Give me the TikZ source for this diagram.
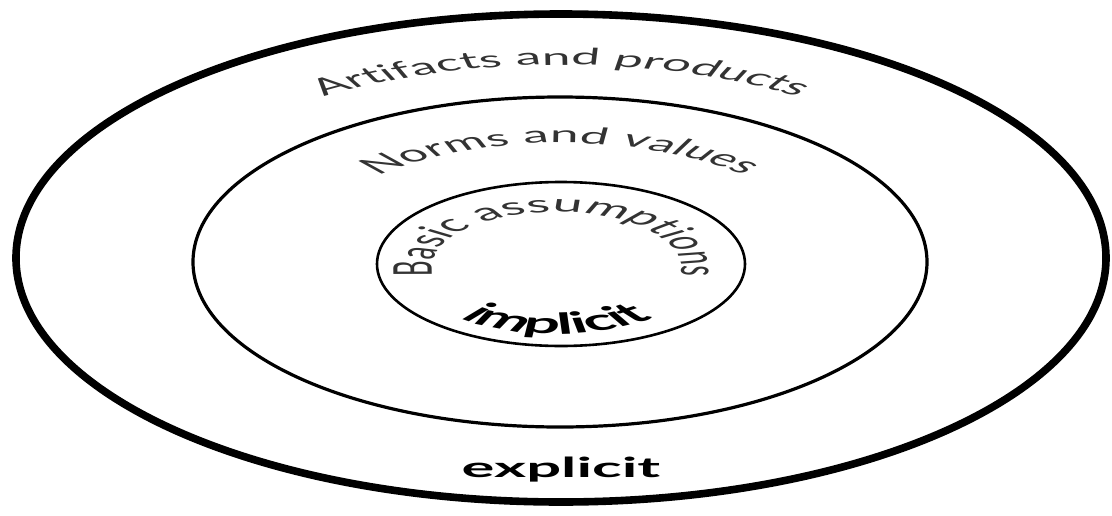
\documentclass[tikz,border=0pt]{standalone}
\usepackage{fontspec}
\setmainfont{Lato}
\usetikzlibrary{decorations.text}

\begin{document}
\begin{tikzpicture}[
    x=0.5pt, y=0.5pt,
    ring/.style={draw=black},
    arctext/.style={decorate, decoration={text along path, text align=center,
        text color=black!80, text={|\fontsize{11.5}{14}\selectfont|#1}}},
    boldarc/.style={decorate, decoration={text along path, text align=center,
        text={|\fontsize{14.5}{17}\selectfont\bfseries|#1}}}
  ]
  \useasboundingbox (-561,-255) rectangle (551,260);

  % the three layers
  \draw[ring, line width=3.8pt] (0,2) ellipse [x radius=545, y radius=244];
  \draw[ring, line width=1.6pt] (-1,-2) ellipse [x radius=367, y radius=165];
  \draw[ring, line width=1.3pt] (0,-4) ellipse [x radius=184, y radius=82];

  % labels are set on circles, then stretched like the rings
  \begin{scope}[transform canvas={xscale=2.23}]
    \path[arctext={Artifacts and products}] (0,2) ++(150:193) arc[start angle=150, end angle=30, radius=193];
    \path[arctext={Norms and values}] (0,-2) ++(165:119) arc[start angle=165, end angle=15, radius=119];
    \path[arctext={|\fontsize{12}{15}\selectfont|Basic assumptions}] (-2,-8) ++(230:56) arc[start angle=230, end angle=-50, radius=56];
    \path[boldarc={implicit}] (-2,-6) ++(200:68) arc[start angle=200, end angle=340, radius=68];
    \node[font=\fontsize{13.8}{16}\selectfont\bfseries, anchor=base, inner sep=0pt] (explicit) at (0,-217) {explicit};
  \end{scope}
\end{tikzpicture}
\end{document}
